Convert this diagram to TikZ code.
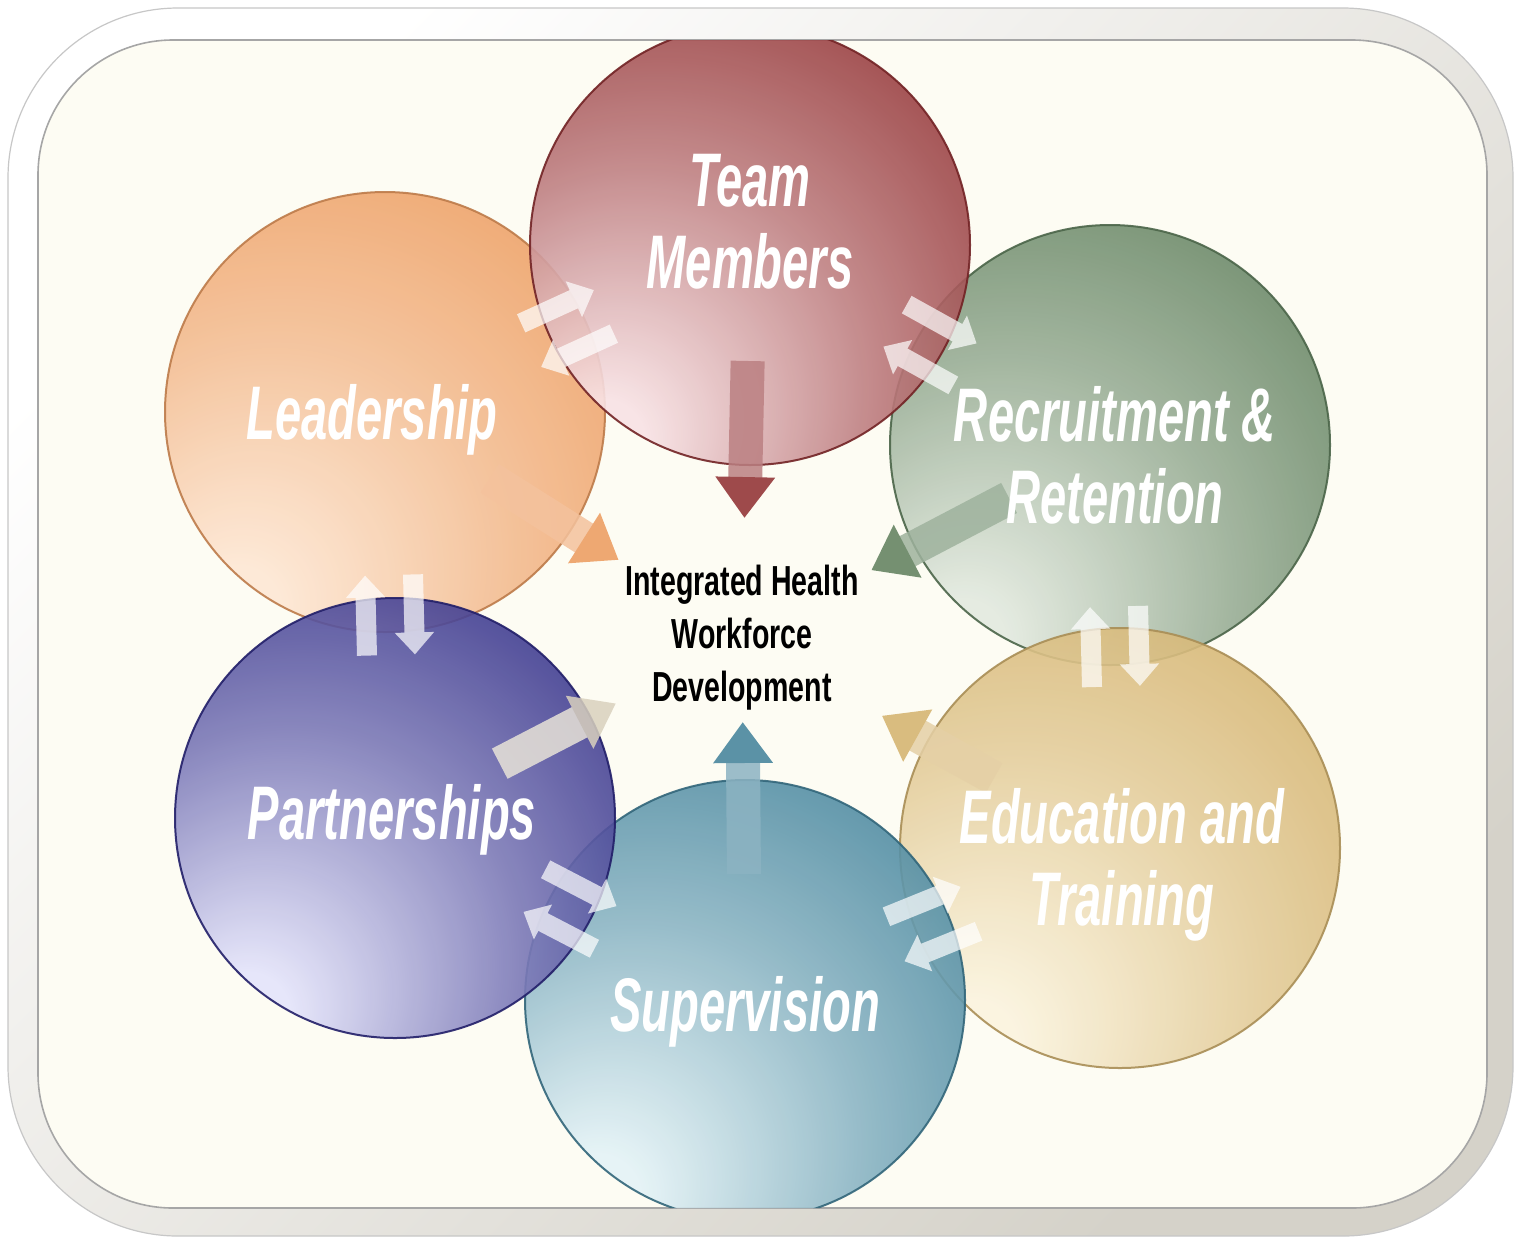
\documentclass[tikz,border=0pt]{standalone}
\usepackage{fontspec}
\usetikzlibrary{arrows.meta,calc}

\newfontfamily\orbfont[FakeStretch=0.62]{Liberation Sans}
\newfontfamily\hubfont[FakeStretch=0.68]{Liberation Sans}

\definecolor{framegray}{HTML}{D5D2C9}
\definecolor{cream}{HTML}{FDFCF3}
\definecolor{teamcol}{HTML}{8E2C2E}
\definecolor{teamin}{HTML}{F8E2E5}
\definecolor{leadcol}{HTML}{EC9A5C}
\definecolor{leadin}{HTML}{FDE7D4}
\definecolor{recruitcol}{HTML}{5E7E5B}
\definecolor{recruitin}{HTML}{E3EAE0}
\definecolor{educcol}{HTML}{D3B16B}
\definecolor{educin}{HTML}{FBF4DF}
\definecolor{supercol}{HTML}{3F8099}
\definecolor{superin}{HTML}{E4F3F7}
\definecolor{partnercol}{HTML}{2B2783}
\definecolor{partnerin}{HTML}{E4E4FB}
\definecolor{partnerarrow}{HTML}{D9D1BE}
\colorlet{orbin}{white}
\colorlet{orbout}{gray}

% light spot low and left on every orb
\pgfdeclareradialshading[orbin,orbout]{orb}{\pgfpoint{-18bp}{-24bp}}{%
  color(0bp)=(orbin); color(5bp)=(orbin); color(26bp)=(orbin!45!orbout);
  color(46bp)=(orbout); color(80bp)=(orbout)}

\tikzset{
  orb/.style 2 args={circle, minimum size=220pt, inner sep=0pt,
    /utils/exec={\colorlet{orbin}{#1}\colorlet{orbout}{#2}},
    shade, shading=orb, draw=#2!80!black, line width=1pt,
    fill opacity=0.9, draw opacity=0.9},
  orblabel/.style={text=white, align=center,
    font=\orbfont\bfseries\itshape\fontsize{38}{41}\selectfont},
  hub/.style={align=center, font=\hubfont\bfseries\fontsize{21}{26.5}\selectfont},
  feed/.style={line width=17pt, draw=#1!60!white,
    -{Triangle[width=28.5pt, length=20.5pt, color=#1]}},
  swap/.style={line width=10pt, draw=white, -{Triangle[width=19pt, length=11pt]}},
}

\begin{document}
\begin{tikzpicture}[x=0.5pt, y=-0.5pt]
    \useasboundingbox (0,0) rectangle (1518,1239);
    \fill[white] (0,0) rectangle (1518,1239);
    % frame
    \shadedraw[rounded corners=85pt, top color=white, middle color=framegray,
        bottom color=framegray, shading angle=45, draw=black!22, line width=0.6pt]
        (8,8) rectangle (1513,1236);
    \filldraw[fill=cream, draw=black!35, line width=0.8pt, rounded corners=67.5pt]
        (38,40) rectangle (1487,1208);

    \begin{scope}
        \clip[rounded corners=67.5pt] (38,40) rectangle (1487,1208);
        \node[orb={recruitin}{recruitcol}] (recruit) at (1110,445) {};
        \node[orb={leadin}{leadcol}] (lead) at (385,412) {};
        \node[orb={teamin}{teamcol}] (team) at (750,245) {};
        \node[orb={educin}{educcol}] (educ) at (1120,848) {};
        \node[orb={superin}{supercol}] (super) at (745,1000) {};
        \node[orb={partnerin}{partnercol}] (partner) at (395,818) {};
    \end{scope}

    \node[hub] (hub) at (742,638) {Integrated Health\\Workforce\\Development};

    \begin{scope}[transparency group, opacity=0.85]
        \foreach \orb/\col/\s/\e in {team/teamcol/58/60, lead/leadcol/62/73,
            recruit/recruitcol/57/73, educ/educcol/72/80,
            super/supercol/63/42, partner/partnerarrow/59/71}
            \draw[feed=\col, shorten <=\s pt, shorten >=\e pt] (\orb.center) -- (hub.center);
    \end{scope}

    \begin{scope}[transparency group, opacity=0.7]
        \foreach \p/\q in {lead/team, team/recruit, recruit/educ,
            educ/super, super/partner, partner/lead}{
            \draw[swap] ($(\p)!.5!(\q)!-20pt!(\q)!12pt!90:(\q)$) -- ($(\p)!.5!(\q)!20pt!(\q)!12pt!90:(\q)$);
            \draw[swap] ($(\q)!.5!(\p)!-20pt!(\p)!12pt!90:(\p)$) -- ($(\q)!.5!(\p)!20pt!(\p)!12pt!90:(\p)$);
        }
    \end{scope}

    \node[orblabel] (teamlabel) at (750,222) {Team\\Members};
    \node[orblabel] (leadlabel) at (372,420) {Leadership};
    \node[orblabel] (recruitlabel) at (1115,455) {Recruitment \&\\Retention};
    \node[orblabel] (educlabel) at (1122,865) {Education and\\Training};
    \node[orblabel] (partnerlabel) at (392,820) {Partnerships};
    \node[orblabel] (superlabel) at (745,1012) {Supervision};
\end{tikzpicture}
\end{document}
